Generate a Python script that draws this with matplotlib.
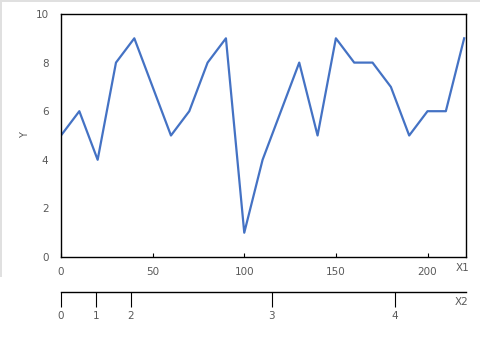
import matplotlib.pyplot as plt
from matplotlib.patches import Rectangle

# 数据
x1 = list(range(0, 230, 10))
y = [5, 6, 4, 8, 9, 7, 5, 6, 8, 9, 1, 4, 6, 8, 5, 9, 8, 8, 7, 5, 6, 6, 9]
x1_ticks = [0, 50, 100, 150, 200]
y_ticks = [0, 2, 4, 6, 8, 10]
x2_labels = ['0', '1', '2', '3', '4']
x2_pos = [0, 19, 38, 115, 182]  # X2 刻度在 X1 坐标中的位置

txt = '#595959'
fig = plt.figure(figsize=(4.8, 3.39), dpi=100)

# 左上角浅灰色边框
fig.patches.append(Rectangle((0, 1 - 277 / 339), 2 / 480, 277 / 339,
                             transform=fig.transFigure, color='#e0e0e0', lw=0))
fig.patches.append(Rectangle((0, 1 - 2 / 339), 1, 2 / 339,
                             transform=fig.transFigure, color='#e0e0e0', lw=0))

ax = fig.add_axes([61 / 480, 1 - 257 / 339, 405 / 480, 243 / 339])
ax.plot(x1, y, color='#4472C4', lw=1.6)
ax.set_xlim(0, 221)
ax.set_ylim(0, 10)
ax.set_xticks(x1_ticks)
ax.set_yticks(y_ticks)
ax.tick_params(axis='x', direction='in', length=3, width=0.8, pad=7,
               labelsize=7.5, labelcolor=txt)
ax.tick_params(axis='y', length=0, pad=9, labelsize=7.5, labelcolor=txt)
for s in ax.spines.values():
    s.set_linewidth(1.0)
    s.set_color('black')
ax.set_ylabel('Y', fontsize=7, color=txt, labelpad=4)

# 第二条 X 轴
ax2 = fig.add_axes([61 / 480, 1 - 292 / 339, 405 / 480, 0.001])
ax2.set_xlim(0, 221)
ax2.set_xticks(x2_pos)
ax2.set_xticklabels(x2_labels)
ax2.set_yticks([])
for k in ['top', 'left', 'right']:
    ax2.spines[k].set_visible(False)
ax2.spines['bottom'].set_linewidth(1.0)
ax2.tick_params(axis='x', direction='out', length=11, width=0.8, pad=3,
                labelsize=7.5, labelcolor=txt)
ax2.patch.set_visible(False)

fig.text(463 / 480, 1 - 268 / 339, 'X1', fontsize=7.5, color=txt,
         ha='center', va='center')
fig.text(462 / 480, 1 - 302 / 339, 'X2', fontsize=7.5, color=txt,
         ha='center', va='center')

fig.savefig('out.png', dpi=100)
